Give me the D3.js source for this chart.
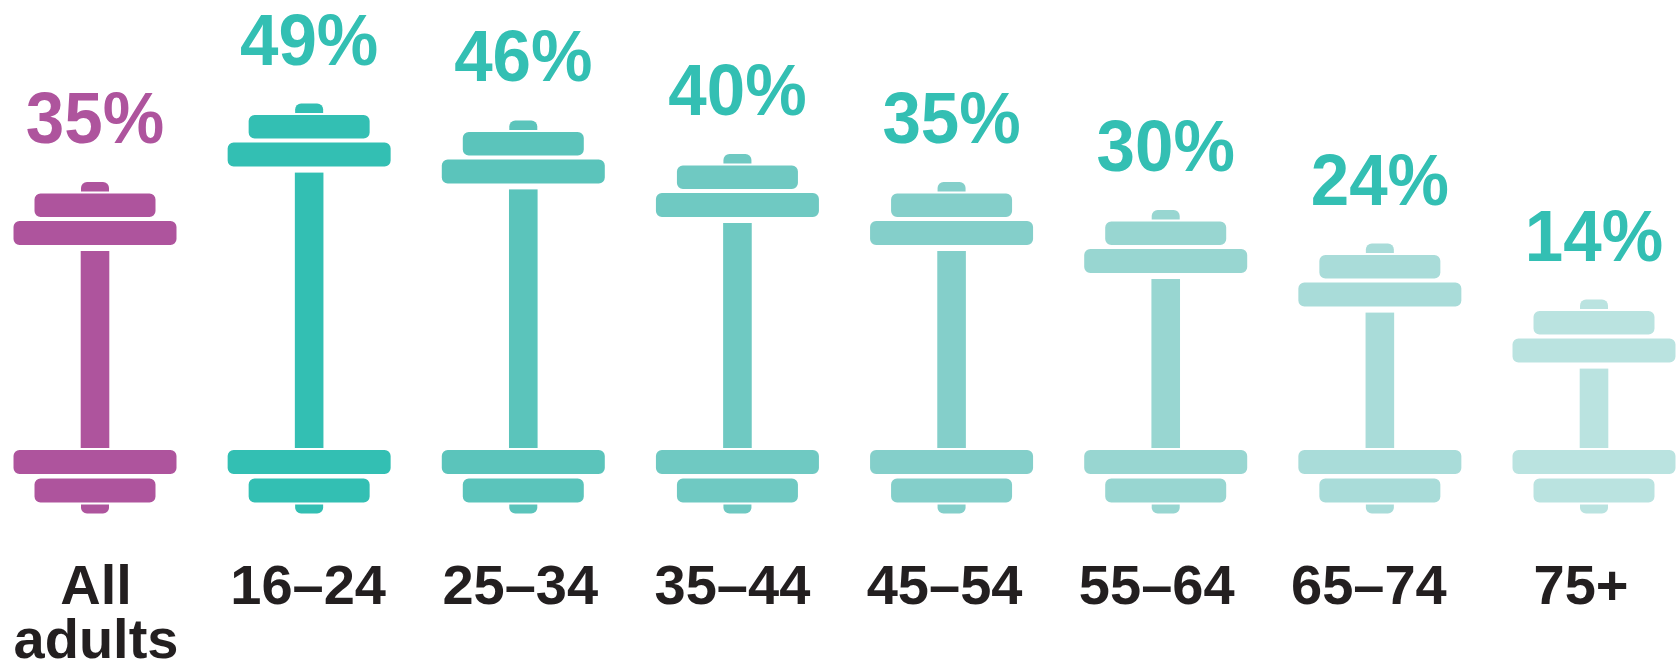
<!DOCTYPE html>
<html>
<head>
<meta charset="utf-8">
<script src="https://cdn.jsdelivr.net/npm/d3@7"></script>
<style>
  html, body { margin: 0; padding: 0; background: #fff; }
  svg { display: block; }
  text { font-family: "Liberation Sans", Arial, Helvetica, sans-serif; font-weight: bold; }
</style>
</head>
<body>
<svg id="chart" width="1677" height="670"></svg>
<script>
// Share of adults in each group (percent)
const categories = ["All adults", "16–24", "25–34", "35–44", "45–54", "55–64", "65–74", "75+"];
const values = [35, 49, 46, 40, 35, 30, 24, 14];

// Fill for each dumbbell and colour of its value label
const fills = ["#ae549d", "#33bfb3", "#5bc4bb", "#6fc9c2", "#84cfca", "#98d6d1", "#a9dcd9", "#bae3e0"];
const valueColors = ["#ae549d", "#33bfb3", "#33bfb3", "#33bfb3", "#33bfb3", "#33bfb3", "#33bfb3", "#33bfb3"];

const svg = d3.select("#chart");

// Horizontal placement of the dumbbells and of the category names
const x = d3.scalePoint().domain(categories).range([95, 1594]);
const xLabel = d3.scalePoint().domain(categories).range([96, 1581]);

// Bar length is proportional to the value; zero sits on the bottom plates
const y = d3.scaleLinear().domain([0, 50]).range([447, 167]);
const y0 = y(0);

const data = categories.map((c, i) => ({ cat: c, value: values[i], fill: fills[i], labelColor: valueColors[i] }));

const g = svg.selectAll("g.bell")
  .data(data)
  .join("g")
  .attr("class", "bell")
  .attr("transform", d => `translate(${x(d.cat)},0)`)
  .attr("fill", d => d.fill);

const BAR_W = 28.6, CAP_W = 28, SMALL_W = 123, BIG_W = 165, PLATE_H = 26;

function plate(sel, w, yFn, h, r) {
  sel.append("rect")
    .attr("x", -w / 2)
    .attr("width", w)
    .attr("y", yFn)
    .attr("height", h)
    .attr("rx", r)
    .attr("stroke", "#fff")
    .attr("stroke-width", 2);
}

// end caps (partly hidden behind the small plates)
g.append("rect").attr("x", -CAP_W / 2).attr("width", CAP_W)
  .attr("y", d => y(d.value) - 69).attr("height", 16).attr("rx", 6);
g.append("rect").attr("x", -CAP_W / 2).attr("width", CAP_W)
  .attr("y", y0 + 50).attr("height", 16.5).attr("rx", 6);

// handle
g.append("rect")
  .attr("x", -BAR_W / 2)
  .attr("width", BAR_W)
  .attr("y", d => y(d.value))
  .attr("height", d => y0 + 3 - y(d.value));

// plates
plate(g, SMALL_W, d => y(d.value) - 58.5, 25.5, 7);
plate(g, BIG_W, d => y(d.value) - 31, PLATE_H, 7);
plate(g, BIG_W, () => y0 + 2, PLATE_H, 7);
plate(g, SMALL_W, () => y0 + 30.5, PLATE_H, 7);

// value labels
svg.selectAll("text.value")
  .data(data)
  .join("text")
  .attr("class", "value")
  .attr("text-anchor", "middle")
  .attr("transform", d => `translate(${x(d.cat)},${y(d.value) - 108}) scale(0.96,1)`)
  .attr("fill", d => d.labelColor)
  .style("font-size", "72px")
  .text(d => d.value + "%");

// category names
const names = svg.selectAll("text.cat")
  .data(data)
  .join("text")
  .attr("class", "cat")
  .attr("text-anchor", "middle")
  .attr("fill", "#231f20")
  .style("font-size", "56px")
  .attr("transform", d => `translate(${xLabel(d.cat)},604)`);

names.selectAll("tspan")
  .data(d => d.cat.split(" "))
  .join("tspan")
  .attr("x", 0)
  .attr("dy", (d, i) => i === 0 ? 0 : 54)
  .text(d => d);
</script>
</body>
</html>
